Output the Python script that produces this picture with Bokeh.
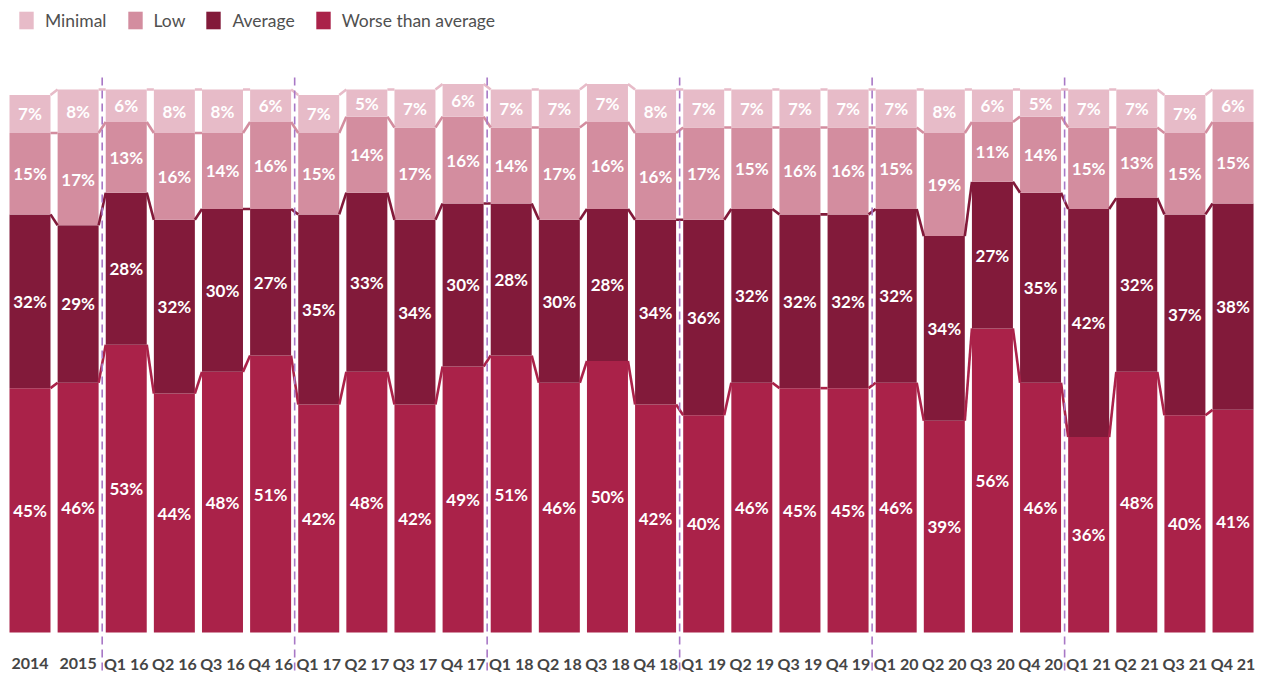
from bokeh.plotting import figure
from bokeh.models import ColumnDataSource, Range1d, Legend, LegendItem
from bokeh.core.properties import value
from bokeh.embed import file_html
from bokeh.resources import INLINE

categories = ["2014", "2015",
              "Q1 16", "Q2 16", "Q3 16", "Q4 16",
              "Q1 17", "Q2 17", "Q3 17", "Q4 17",
              "Q1 18", "Q2 18", "Q3 18", "Q4 18",
              "Q1 19", "Q2 19", "Q3 19", "Q4 19",
              "Q1 20", "Q2 20", "Q3 20", "Q4 20",
              "Q1 21", "Q2 21", "Q3 21", "Q4 21"]
worse = [45, 46, 53, 44, 48, 51, 42, 48, 42, 49, 51, 46, 50, 42, 40, 46, 45, 45, 46, 39, 56, 46, 36, 48, 40, 41]
average = [32, 29, 28, 32, 30, 27, 35, 33, 34, 30, 28, 30, 28, 34, 36, 32, 32, 32, 32, 34, 27, 35, 42, 32, 37, 38]
low = [15, 17, 13, 16, 14, 16, 15, 14, 17, 16, 14, 17, 16, 16, 17, 15, 16, 16, 15, 19, 11, 14, 15, 13, 15, 15]
minimal = [7, 8, 6, 8, 8, 6, 7, 5, 7, 6, 7, 7, 7, 8, 7, 7, 7, 7, 7, 8, 6, 5, 7, 7, 7, 6]
series_keys = ["worse", "average", "low", "minimal"]
series_names = ["Worse than average", "Average", "Low", "Minimal"]
year_starts = ["Q1 16", "Q1 17", "Q1 18", "Q1 19", "Q1 20", "Q1 21"]

COLORS = ["#aa2249", "#821a3a", "#d38d9f", "#e7bbc8"]
BAR_W = 0.852
FONT = "Lato"

x = list(range(len(categories)))
data = dict(x=x, worse=worse, average=average, low=low, minimal=minimal)
src = ColumnDataSource(data)

p = figure(width=1263, height=673,
           x_range=Range1d(-0.613, 25.633), y_range=Range1d(-7.55, 116.39),
           output_backend="svg", toolbar_location=None, min_border=0)
p.axis.visible = False
p.grid.visible = False
p.outline_line_color = None
p.background_fill_color = "white"
p.border_fill_color = "white"

rs = p.vbar_stack(series_keys, x="x", width=BAR_W, color=COLORS,
                  line_color=None, source=src)

# connectors between bar tops and segment labels
bottoms = [0] * len(x)
for key, col in zip(series_keys, COLORS):
    vals = data[key]
    tops = [b + v for b, v in zip(bottoms, vals)]
    p.segment(x0=[i + BAR_W / 2 for i in x[:-1]], y0=tops[:-1],
              x1=[i + 1 - BAR_W / 2 for i in x[:-1]], y1=tops[1:],
              line_color=col, line_width=2.6)
    p.text(x=x, y=[b + v / 2 for b, v in zip(bottoms, vals)],
           text=[f"{v}%" for v in vals],
           text_align="center", text_baseline="middle",
           text_font=value(FONT), text_font_style="bold",
           text_font_size="17px", text_color="white")
    bottoms = tops

# dashed year separators
sep_x = [categories.index(c) - 0.5 for c in year_starts]
p.segment(x0=sep_x, y0=[102.2] * len(sep_x), x1=sep_x, y1=[-10] * len(sep_x),
          line_color="#a878c6", line_width=1.6, line_dash="8 5")

# category labels
p.text(x=x, y=[-5.7] * len(x), text=categories,
       text_align="center", text_baseline="middle",
       text_font=value(FONT), text_font_style="bold",
       text_font_size="16px", text_color="#454545")

order = [3, 2, 1, 0]
legend = Legend(items=[LegendItem(label=series_names[k], renderers=[rs[k]]) for k in order],
                orientation="horizontal", location=(17, 642),
                padding=0, margin=0, spacing=19,
                glyph_width=18, glyph_height=22, label_standoff=10,
                label_text_font=FONT, label_text_font_size="17.5px",
                label_text_color="#505050", label_text_baseline="middle",
                border_line_color=None, background_fill_alpha=0)
p.add_layout(legend)

open("out.html", "w").write(file_html(p, INLINE))
